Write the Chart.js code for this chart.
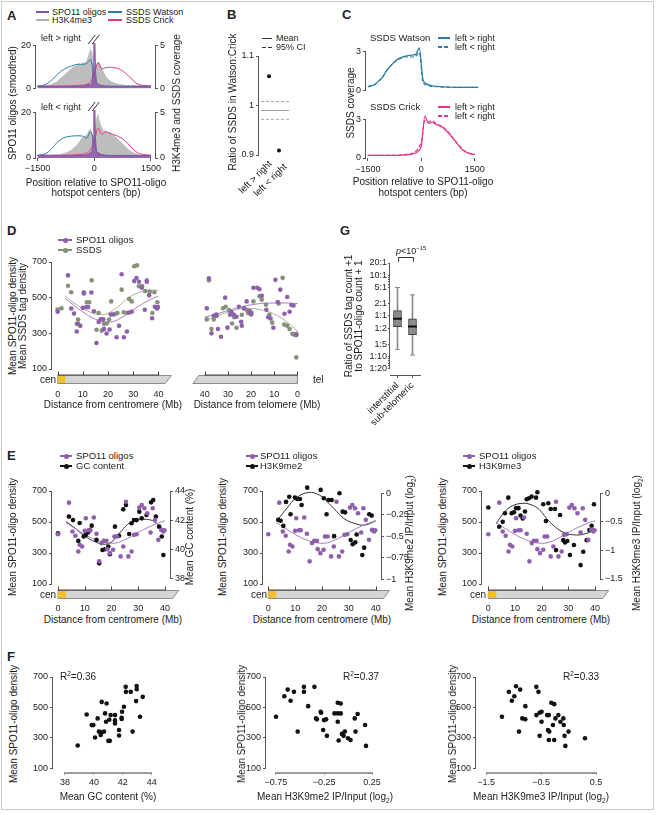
<!DOCTYPE html>
<html>
<head>
<meta charset="utf-8">
<script src="https://cdn.jsdelivr.net/npm/chart.js@4.4.1/dist/chart.umd.min.js"></script>
<style>
html, body { margin: 0; padding: 0; background: #fff; }
#fig { position: relative; width: 656px; height: 815px; overflow: hidden;
       font-family: 'Liberation Sans', Arial, Helvetica, sans-serif; color: #222; }
#fig canvas { position: absolute; }
.t { position: absolute; white-space: nowrap; line-height: 1; }
.t sup, .t sub { font-size: 65%; line-height: 0; }
.frame { position: absolute; left: 1px; top: 1px; width: 651px; height: 807px; border: 1px solid #cdcdcd; }
.ln { position: absolute; }
.dot { position: absolute; width: 5px; height: 5px; border-radius: 50%; }
</style>
</head>
<body>
<div id="fig"><div class="frame"></div></div>
<script>
// ---------- A / C : profiles around SPO11-oligo hotspot centres (bp) ----------
var pos100 = [-1500,-1400,-1300,-1200,-1100,-1000,-900,-800,-700,-600,-500,-400,-300,-200,-100,0,100,200,300,400,500,600,700,800,900,1000,1100,1200,1300,1400,1500];
var pos50 = [-1500,-1450,-1400,-1350,-1300,-1250,-1200,-1150,-1100,-1050,-1000,-950,-900,-850,-800,-750,-700,-650,-600,-550,-500,-450,-400,-350,-300,-250,-200,-150,-100,-50,0,50,100,150,200,250,300,350,400,450,500,550,600,650,700,750,800,850,900,950,1000,1050,1100,1150,1200,1250,1300,1350,1400,1450,1500];
var posSpo = [-1500,-1200,-900,-600,-400,-300,-200,-150,-100,-60,-30,-10,0,10,30,60,100,150,200,300,400,600,900,1200,1500];

// left > right
var aSpoLR = [1,1,1,1,1.1,1.2,1.5,2.2,1.6,2.5,9,40,40,40,9,2.5,2.2,1.6,1.3,1.1,1,1,1,1,1];
var aWatsonLR = [.3,.35,.45,.7,1.1,1.55,1.95,2.25,2.5,2.65,2.8,2.85,2.85,2.95,3.4,1.3,.5,.35,.3,.3,.28,.28,.28,.28,.28,.28,.28,.28,.28,.28,.28];
var aCrickLR = [.3,.3,.3,.3,.3,.3,.3,.3,.32,.33,.35,.38,.4,.5,.8,1.7,3.0,2.3,2.45,2.5,2.45,2.4,2.2,1.9,1.5,1.1,.65,.45,.37,.33,.3];
var aH3LR = [.35,.35,.35,.35,.37,.4,.45,.5,.6,.7,.8,1.0,1.2,1.4,1.6,1.8,2.0,2.2,2.4,2.6,2.7,2.8,3.0,2.8,3.1,3.0,3.3,4.0,4.7,4.2,2.4,2.8,3.2,3.0,2.4,2.0,1.5,1.2,1.0,.85,.75,.65,.6,.55,.5,.48,.45,.43,.42,.4,.4,.38,.38,.37,.37,.36,.36,.35,.35,.35,.35];
// left < right
var aSpoRL = [1,1,1,1,1.1,1.2,1.4,1.8,2.4,2.6,9,40,40,40,9,2.5,2.4,1.8,1.4,1.2,1,1,1,1,1];
var aWatsonRL = [.3,.35,.45,.72,1.15,1.64,2.0,2.25,2.35,2.42,2.45,2.45,2.4,2.2,2.9,1.6,.45,.33,.3,.3,.28,.28,.28,.28,.28,.28,.28,.28,.28,.28,.28];
var aCrickRL = [.3,.3,.3,.3,.3,.3,.3,.3,.32,.33,.35,.38,.42,.55,.9,1.8,3.3,2.6,2.9,2.75,2.6,2.45,2.25,1.95,1.55,1.1,.7,.48,.38,.33,.3];
var aH3RL = [.35,.35,.35,.35,.36,.36,.37,.37,.38,.38,.4,.42,.45,.5,.55,.6,.7,.8,.95,1.1,1.3,1.5,1.8,2.1,2.3,2.4,2.6,3.0,3.3,2.6,2.4,4.3,4.9,4.0,3.4,3.0,3.1,2.8,2.9,2.7,2.6,2.4,2.2,2.0,1.8,1.6,1.4,1.2,1.0,.8,.7,.6,.5,.45,.4,.37,.35,.35,.35,.35,.35];

// C
var cWatsonLR = [.3,.38,.5,.75,1.05,1.5,1.85,2.15,2.4,2.55,2.65,2.7,2.75,2.8,3.3,.85,.52,.4,.35,.32,.3,.28,.27,.26,.25,.25,.25,.25,.25,.25,.25];
var cWatsonRL = [.3,.38,.5,.75,1.05,1.5,1.85,2.15,2.35,2.5,2.6,2.6,2.6,2.65,2.95,.65,.42,.35,.32,.3,.28,.27,.26,.25,.25,.25,.25,.25,.25,.25,.25];
var cCrickLR = [.2,.2,.2,.2,.2,.2,.2,.2,.2,.22,.22,.25,.28,.35,.5,.95,3.3,2.75,2.8,2.65,2.55,2.4,2.15,1.85,1.5,1.15,.8,.55,.4,.32,.28];
var cCrickRL = [.2,.2,.2,.2,.2,.2,.2,.2,.2,.22,.24,.28,.33,.45,.7,1.3,2.95,2.85,2.95,2.75,2.6,2.45,2.2,1.9,1.55,1.2,.85,.58,.42,.33,.28];

// ---------- B ----------
var bCats = ['left > right', 'left < right'];
var bRatio = [1.059, 0.909];
var bMean = 0.99;
var bCiLow = 0.972;
var bCiHigh = 1.008;

// ---------- D / E : distance from centromere or telomere (Mb) ----------
var spoCenX = [0,4.1,5.4,6.5,7.6,8.1,9.0,10.0,10.4,11.4,12.1,13.4,14.4,15.4,16.3,17.1,18.1,18.4,19.4,20.6,21.1,22.1,23.4,24.4,25.4,26.3,27.5,28.4,29.4,30.4,31.3,32.3,33.4,34.6,35.4,36.3,37.5,38.6,39.4,39.8];
var spoCenY = [421,625,439,411,310,353,342,443,524,447,447,529,424,246,364,379,379,325,299,321,406,406,278,342,631,278,310,417,421,593,610,589,556,432,589,514,385,449,439,447];
var ssdsCenX = [0,1.5,4.1,5.4,7.6,8.1,10.4,11.6,12.5,13.5,15.4,16.25,17.5,18.4,19.5,20.4,21.25,23.0,23.75,25.4,26.25,27.5,28.4,29.4,30.4,31.5,32.25,33.5,34.8,35.4,36.6,37.6,38.4,39.6];
var ssdsCenY = [433,440,567,530,354,377,530,474,474,597,320,414,315,354,355,377,479,410,414,545,418,414,493,479,676,681,564,565,537,597,535,414,530,474];
var spoTelX = [38.2,39.1,36.1,37.1,35.0,34.3,33.0,31.2,30.2,29.1,28.5,27.5,26.3,25.3,24.3,24.0,23.1,21.9,20.6,20.0,19.0,17.3,16.4,15.4,13.4,12.6,11.6,10.4,9.5,8.5,7.4,5.6,4.4,3.4,2.6,1.7,0.5];
var spoTelY = [608,440,399,300,405,324,281,500,332,404,420,406,393,449,365,343,440,479,425,406,556,556,547,511,432,390,383,331,600,475,545,410,504,421,459,456,290];
var ssdsTelX = [38.2,39.1,37.1,36.1,34.9,32.1,31.0,29.5,28.2,27.3,26.3,24.0,23.0,21.9,21.3,19.8,19.0,16.4,15.4,13.6,12.1,10.9,8.1,6.4,5.7,4.4,3.4,2.2,1.3,0.5,0.5];
var ssdsTelY = [597,378,324,378,397,441,449,430,355,390,331,404,440,432,415,415,479,508,489,460,404,360,467,611,349,343,324,298,292,165,298];

var spoCenFitX = [3,6,10,14,18,22,26,30,34,38,40];
var spoCenFitY = [495,462,420,386,366,366,394,433,468,497,508];
var ssdsCenFitX = [3,6,10,14,17,20,24,28,32,36,40];
var ssdsCenFitY = [510,475,440,412,405,412,450,498,528,540,542];
var spoTelFitX = [40,35,30,25,20,15,10,5,0];
var spoTelFitY = [390,408,428,446,460,468,470,470,467];
var ssdsTelFitX = [40,35,30,25,20,15,10,5,0];
var ssdsTelFitY = [372,396,418,436,440,430,408,368,312];

var gcX = [0,4.1,5.6,7.6,8.1,9.6,10.4,11.3,11.9,12.6,14.4,15.4,16.6,17.6,18.8,19.4,21.3,22.8,24.4,25.4,26.6,27.5,28.4,29.4,30.4,31.3,33.1,34.8,35.6,36.6,37.8,38.8,39.4];
var gcY = [41.1,42.24,42.0,40.57,41.8,40.87,40.98,41.16,41.32,41.62,40.64,39.03,39.95,40.0,40.18,39.65,41.55,40.93,42.74,43.04,41.05,41.78,42.0,42.0,42.58,42.12,42.35,43.22,43.38,42.24,41.55,40.87,39.6];
var gcFitX = [3,6,10,14,17,20,23,26,29,33,36,40];
var gcFitY = [41.9,41.5,40.9,40.5,40.34,40.5,41.1,41.7,42.0,42.05,41.9,41.25];

var me2X = [3.7,4.6,5.6,6.6,7.8,8.3,9.9,10.8,11.8,12.4,14.5,15.5,16.5,17.4,18.6,19.5,20.7,21.7,22.4,23.6,24.5,26.5,27.7,28.6,30.7,31.4,32.4,32.9,35.0,35.7,37.6,38.5,39.8];
var me2Y = [-0.31,-0.32,-0.38,-0.10,-0.04,-0.245,-0.05,-0.066,-0.066,-0.136,0.066,0.18,0.175,0.167,0.078,0.04,-0.058,-0.245,-0.078,-0.078,-0.5,0.0,-0.214,-0.222,-0.545,-0.595,-0.572,-0.48,-0.72,-0.634,-0.245,-0.26,0.105];
var me2FitX = [3.7,7,10.5,15,19,22,24.5,28,32,36,40];
var me2FitY = [-0.30,-0.17,-0.05,0.01,-0.02,-0.1,-0.18,-0.29,-0.35,-0.37,-0.32];

var me3X = [0,4.1,5.4,6.25,7.5,8.75,9.6,10.4,11.3,12.1,12.9,13.75,14.4,15.25,16.25,17.9,18.4,19.4,20.6,21.6,22.5,23.4,25.0,25.4,26.9,28.1,28.75,29.6,30.6,32.1,34.6,35.6,36.9,37.9,38.75,39.6];
var me3Y = [-0.25,-0.585,-0.50,-0.35,-0.076,-0.35,-0.333,-0.26,-0.26,-0.39,-0.44,-0.32,-0.105,-0.088,-0.058,-0.076,0.018,0.32,-0.193,-0.485,-0.175,-0.275,-0.275,-0.994,-0.38,-0.82,-0.86,-0.836,-1.08,-0.906,-1.257,-1.023,-0.82,-0.643,-0.567,-0.193];
var me3FitX = [3,6,9,13,16,19,23,28,33,37,40];
var me3FitY = [-0.53,-0.33,-0.22,-0.175,-0.2,-0.28,-0.5,-0.68,-0.73,-0.7,-0.64];

// ---------- G ----------
var gCats = ['interstitial', 'sub-telomeric'];
var gLow = [0.15, 0.11];
var gQ1 = [0.55, 0.35];
var gMed = [0.85, 0.55];
var gQ3 = [1.35, 0.85];
var gHigh = [5, 3.3];
var gTicks = [0.05,0.06,0.07,0.08,0.09,0.1,0.2,0.5,1,2,5,6,7,8,9,10,20];
var gTickLabels = ['1:20','','','','','1:10','1:5','1:2','1:1','2:1','5:1','','','','','10:1','20:1'];

// ---------- F ----------
var fGcX = [38.88,39.5,39.85,39.96,40.08,40.26,40.35,40.47,40.54,40.54,40.7,40.77,40.84,40.88,41.0,41.1,41.07,41.16,41.46,41.46,41.46,41.74,41.74,41.92,41.92,41.95,42.08,42.2,42.22,42.55,42.68,42.96,42.96,42.92,43.19,43.38];
var fGcY = [248,453,383,383,301,427,340,318,336,536,340,460,405,525,279,279,418,449,449,414,394,351,314,431,423,471,504,635,602,602,340,641,619,541,438,569];
var fMe2X = [-0.75,-0.663,-0.628,-0.598,-0.563,-0.524,-0.459,-0.459,-0.415,-0.35,-0.333,-0.324,-0.285,-0.28,-0.259,-0.25,-0.228,-0.22,-0.141,-0.107,-0.107,-0.076,-0.107,-0.098,-0.076,-0.063,-0.046,-0.033,0.0,0.026,0.07,0.078,0.1,0.178,0.187];
var fMe2Y = [438,573,617,543,602,340,602,635,508,635,427,421,471,464,351,416,421,312,460,460,530,525,405,281,460,325,312,340,296,285,427,340,456,384,246];
var fMe3X = [-1.21,-1.085,-1.03,-0.985,-0.955,-0.88,-0.9,-0.84,-0.785,-0.785,-0.585,-0.585,-0.547,-0.525,-0.525,-0.49,-0.49,-0.389,-0.358,-0.374,-0.35,-0.358,-0.313,-0.283,-0.26,-0.26,-0.238,-0.185,-0.147,-0.094,-0.087,-0.072,-0.057,0.0,0.3];
var fMe3Y = [438,602,543,573,639,617,340,427,421,508,449,635,602,464,312,471,405,449,449,351,340,285,530,384,521,285,427,449,405,427,384,312,246,340,296];

// ---------- colours ----------
var PURPLE = '#8b52a8', PURPLE_DOT = '#8e5fab', PURPLE_FIT = '#a47cbf';
var OLIVE = '#86907a', OLIVE_FIT = '#aab09c';
var TEAL = '#2a7ea3', PINK = '#e0368b', GREY = '#bdbdbd';

Chart.defaults.font.family = "'Liberation Sans', Arial, Helvetica, sans-serif";
Chart.defaults.font.size = 9;
Chart.defaults.color = '#222';
Chart.defaults.plugins.legend.display = false;
Chart.defaults.plugins.tooltip.enabled = false;

// axis line only between first and last tick
var spanAxis = {
  id: 'spanAxis',
  afterDatasetsDraw: function (chart, args, o) {
    var ctx = chart.ctx;
    Object.keys(chart.scales).forEach(function (id) {
      var w = o[id];
      if (!w) return;
      var s = chart.scales[id];
      var a = s.getPixelForValue(s.ticks[0].value);
      var b = s.getPixelForValue(s.ticks[s.ticks.length - 1].value);
      ctx.save();
      ctx.strokeStyle = w > 1 ? '#9c9c9c' : '#555';
      ctx.lineWidth = w;
      ctx.beginPath();
      if (s.isHorizontal()) {
        var y = Math.round(s.top) + (w > 1 ? 1 : 0.5);
        ctx.moveTo(a, y); ctx.lineTo(b, y);
      } else {
        var x = s.position === 'left' ? Math.round(s.right) - 0.5 : Math.round(s.left) + 0.5;
        ctx.moveTo(x, a); ctx.lineTo(x, b);
      }
      ctx.stroke();
      ctx.restore();
    });
  }
};

// chromosome schematic under the distance axis
var chromBar = {
  id: 'chromBar',
  afterDraw: function (chart, args, o) {
    if (!o.kind) return;
    var ctx = chart.ctx, xs = chart.scales.x;
    var top = chart.chartArea.bottom + o.gap, h = 8;
    var p0 = xs.getPixelForValue(0), pe = xs.getPixelForValue(o.end);
    ctx.save();
    ctx.fillStyle = '#d5d5d5'; ctx.strokeStyle = '#8c8c8c'; ctx.lineWidth = 1;
    ctx.beginPath();
    if (o.kind === 'cen') {
      ctx.moveTo(p0, top); ctx.lineTo(pe + 3, top); ctx.lineTo(pe - 3, top + h); ctx.lineTo(p0, top + h);
    } else {
      ctx.moveTo(pe + 3, top); ctx.lineTo(p0, top); ctx.lineTo(p0, top + h); ctx.lineTo(pe - 3, top + h);
    }
    ctx.closePath(); ctx.fill(); ctx.stroke();
    if (o.kind === 'cen') {
      ctx.fillStyle = '#f4bf2a';
      var p3 = xs.getPixelForValue(3);
      ctx.fillRect(p0, top + 0.5, p3 - p0, h - 1);
    }
    ctx.strokeStyle = '#444';
    ctx.beginPath();
    var p40 = xs.getPixelForValue(40);
    ctx.moveTo(p0, top - 0.5); ctx.lineTo(p40, top - 0.5);
    [0, 10, 20, 30, 40].forEach(function (v) {
      var px = Math.round(xs.getPixelForValue(v)) + 0.5;
      ctx.moveTo(px, top - 4); ctx.lineTo(px, top);
    });
    ctx.stroke();
    ctx.restore();
  }
};

// "//" break mark on the clipped SPO11 spike
var breakMark = {
  id: 'breakMark',
  afterDraw: function (chart, args, o) {
    if (!o.on) return;
    var ctx = chart.ctx, cx = chart.scales.x.getPixelForValue(0), t = chart.chartArea.top;
    ctx.save();
    ctx.strokeStyle = '#333'; ctx.lineWidth = 1;
    ctx.beginPath();
    ctx.moveTo(cx - 6, t + 1); ctx.lineTo(cx + 1, t - 8);
    ctx.moveTo(cx - 2, t + 1); ctx.lineTo(cx + 5, t - 8);
    ctx.stroke();
    ctx.restore();
  }
};

// significance bracket in G
var bracket = {
  id: 'bracket',
  afterDraw: function (chart, args, o) {
    if (!o.on) return;
    var ctx = chart.ctx, xs = chart.scales.x;
    var p1 = Math.round(xs.getPixelForValue(0)) + 0.5, p2 = Math.round(xs.getPixelForValue(1)) + 0.5;
    var y = chart.chartArea.top - 5.5;
    ctx.save();
    ctx.strokeStyle = '#333'; ctx.lineWidth = 1;
    ctx.beginPath();
    ctx.moveTo(p1, y + 4); ctx.lineTo(p1, y); ctx.lineTo(p2, y); ctx.lineTo(p2, y + 4);
    ctx.stroke();
    ctx.restore();
  }
};

Chart.register(spanAxis, chromBar, breakMark, bracket);

var fig = document.getElementById('fig');

function fm(v) { return v < 0 ? '\u2212' + Math.abs(v) : String(v); }
function xy(xs, ys) { return xs.map(function (x, i) { return { x: x, y: ys[i] }; }); }

function yAxis(pos, min, max, ticks, w, cb) {
  return {
    type: 'linear', position: pos, min: min, max: max,
    afterBuildTicks: function (s) { s.ticks = ticks.map(function (v) { return { value: v }; }); },
    afterFit: function (s) { s.width = w; },
    grid: { display: true, drawOnChartArea: false, drawTicks: true, tickLength: 3, color: '#555' },
    border: { display: false },
    ticks: { padding: 2, autoSkip: false, callback: cb || fm }
  };
}

function xAxis(min, max, ticks, h, o) {
  o = o || {};
  return {
    type: 'linear', position: 'bottom', min: min, max: max, reverse: !!o.reverse,
    display: o.display !== false,
    afterBuildTicks: function (s) { s.ticks = ticks.map(function (v) { return { value: v }; }); },
    afterFit: function (s) { s.height = h; },
    grid: { display: !!o.marks, drawOnChartArea: false, drawTicks: !!o.marks, tickLength: 3, color: o.markColor || '#555' },
    border: { display: false },
    ticks: { padding: o.pad === undefined ? 3 : o.pad, maxRotation: 0, autoSkip: false, callback: fm }
  };
}

function pts(xs, ys, color, axis) {
  return { data: xy(xs, ys), backgroundColor: color, borderWidth: 0, pointRadius: 2.3,
           yAxisID: axis || 'y', clip: false, order: 0 };
}
function fit(xs, ys, color, axis) {
  return { data: xy(xs, ys), showLine: true, borderColor: color, borderWidth: 1, pointRadius: 0,
           tension: 0.4, yAxisID: axis || 'y', clip: false, order: 1 };
}

// area = [left, top, right, bottom] of the plotting area on the page
function mk(area, r, cfg) {
  var W = area[2] - area[0] + r.L + r.R, H = area[3] - area[1] + r.T + r.B;
  var cv = document.createElement('canvas');
  cv.width = W; cv.height = H;
  cv.style.left = (area[0] - r.L) + 'px'; cv.style.top = (area[1] - r.T) + 'px';
  cv.style.width = W + 'px'; cv.style.height = H + 'px';
  fig.appendChild(cv);
  var op = cfg.options;
  op.layout = { padding: { left: r.L - (r.yl || 0), right: r.R - (r.yr || 0), top: r.T, bottom: r.B - (r.xb || 0) } };
  op.responsive = false; op.animation = false; op.events = []; op.devicePixelRatio = 1;
  return new Chart(cv, cfg);
}

function T(x, y, html, o) {
  o = o || {};
  var d = document.createElement('div');
  d.className = 't';
  d.innerHTML = html;
  d.style.fontSize = (o.size || 10) + 'px';
  if (o.bold) d.style.fontWeight = 'bold';
  d.style.left = x + 'px'; d.style.top = y + 'px';
  if (o.rot) d.style.transform = 'translate(-50%,-50%) rotate(-90deg)';
  else if (o.diag) { d.style.transformOrigin = '0 0'; d.style.transform = 'rotate(-45deg) translate(-100%,-50%)'; }
  else d.style.transform = 'translate(' + (o.a === 'c' ? '-50%' : o.a === 'r' ? '-100%' : '0') + ',-50%)';
  fig.appendChild(d);
}
function LN(x1, x2, y, color, w, dash) {
  var d = document.createElement('div');
  d.className = 'ln';
  d.style.left = x1 + 'px'; d.style.width = (x2 - x1) + 'px';
  d.style.top = (y - w / 2) + 'px'; d.style.height = w + 'px';
  d.style.background = dash ? 'repeating-linear-gradient(90deg,' + color + ' 0 4px,transparent 4px 6px)' : color;
  fig.appendChild(d);
}
function DOT(x, y, color) {
  var d = document.createElement('div');
  d.className = 'dot';
  d.style.left = (x - 2.5) + 'px'; d.style.top = (y - 2.5) + 'px'; d.style.background = color;
  fig.appendChild(d);
}

// ================= A =================
function aChart(area, spo, wat, cri, h3, yMax, y2Max, showX) {
  return mk(area, { L: 30, R: 22, T: 12, B: showX ? 20 : 6, yl: 22, yr: 18, xb: showX ? 16 : 0 }, {
    type: 'line',
    data: { datasets: [
      { data: xy(posSpo, spo), yAxisID: 'y', borderColor: PURPLE, borderWidth: 1,
        backgroundColor: 'rgba(139,82,168,0.8)', fill: 'origin', pointRadius: 0, tension: 0, order: 0 },
      { data: xy(pos100, wat), yAxisID: 'y2', borderColor: TEAL, borderWidth: 1, pointRadius: 0,
        cubicInterpolationMode: 'monotone', fill: false, order: 1 },
      { data: xy(pos100, cri), yAxisID: 'y2', borderColor: PINK, borderWidth: 1, pointRadius: 0,
        cubicInterpolationMode: 'monotone', fill: false, order: 1 },
      { data: xy(pos50, h3), yAxisID: 'y2', borderWidth: 0, backgroundColor: GREY, fill: 'origin',
        pointRadius: 0, tension: 0, order: 3 }
    ] },
    options: {
      scales: {
        x: xAxis(-1540, 1606, [-1500, 0, 1500], showX ? 16 : 0, { display: showX, marks: true, pad: 2 }),
        y: yAxis('left', 0, yMax, [0, 20], 22),
        y2: yAxis('right', 0, y2Max, [0, 5], 18)
      },
      plugins: { spanAxis: { y: 1, y2: 1 }, breakMark: { on: true } }
    }
  });
}
aChart([36, 43, 155, 90], aSpoLR, aWatsonLR, aCrickLR, aH3LR, 21.36, 5.34, false);
aChart([36, 110, 155, 158], aSpoRL, aWatsonRL, aCrickRL, aH3RL, 21.2, 5.3, true);

// ================= B =================
mk([259, 56, 289, 155], { L: 30, R: 6, T: 8, B: 55, yl: 24, xb: 50 }, {
  type: 'scatter',
  data: { datasets: [
    { data: bCats.map(function (c, i) { return { x: i, y: bRatio[i] }; }), backgroundColor: '#111', pointRadius: 2, borderWidth: 0 },
    { data: [{ x: -0.8, y: bMean }, { x: 2, y: bMean }], showLine: true, borderColor: '#9a9a9a', borderWidth: 1, pointRadius: 0 },
    { data: [{ x: -0.8, y: bCiLow }, { x: 2, y: bCiLow }], showLine: true, borderColor: '#a8a8a8', borderWidth: 1, borderDash: [3, 2], pointRadius: 0 },
    { data: [{ x: -0.8, y: bCiHigh }, { x: 2, y: bCiHigh }], showLine: true, borderColor: '#a8a8a8', borderWidth: 1, borderDash: [3, 2], pointRadius: 0 }
  ] },
  options: {
    scales: {
      x: { type: 'linear', min: -1, max: 2,
           afterFit: function (s) { s.height = 50; },
           grid: { display: false, drawTicks: false }, border: { display: false },
           ticks: { display: false } },
      y: yAxis('left', 0.9, 1.1, [0.9, 1, 1.1], 24, function (v) { return String(v); })
    },
    plugins: { spanAxis: { y: 1 } }
  }
});

// ================= C =================
function cChart(area, solid, dashed, color, yMax, showX) {
  return mk(area, { L: 20, R: 8, T: 8, B: showX ? 20 : 6, yl: 14, xb: showX ? 16 : 0 }, {
    type: 'line',
    data: { datasets: [
      { data: xy(pos100, dashed), borderColor: color, borderWidth: 1.2, borderDash: [4, 2], pointRadius: 0, cubicInterpolationMode: 'monotone' },
      { data: xy(pos100, solid), borderColor: color, borderWidth: 1.2, pointRadius: 0, cubicInterpolationMode: 'monotone' }
    ] },
    options: {
      scales: {
        x: xAxis(-1550, 1550, [-1500, 0, 1500], showX ? 16 : 0, { display: showX, marks: true, pad: 3 }),
        y: yAxis('left', 0, yMax, [0, 3], 14)
      },
      plugins: { spanAxis: { y: 1 } }
    }
  });
}
cChart([366, 46, 480, 92], cWatsonLR, cWatsonRL, TEAL, 3.45, false);
cChart([366, 114, 480, 158], cCrickLR, cCrickRL, PINK, 3.47, true);

// ================= D =================
mk([52, 262, 170, 369], { L: 28, R: 14, T: 8, B: 34, yl: 24, xb: 30 }, {
  type: 'scatter',
  data: { datasets: [
    pts(spoCenX, spoCenY, PURPLE_DOT), pts(ssdsCenX, ssdsCenY, OLIVE),
    fit(spoCenFitX, spoCenFitY, PURPLE_FIT), fit(ssdsCenFitX, ssdsCenFitY, OLIVE_FIT)
  ] },
  options: {
    scales: { x: xAxis(-2.24, 41.87, [0, 10, 20, 30, 40], 30, { pad: 20 }),
              y: yAxis('left', 100, 700, [100, 300, 500, 700], 24) },
    plugins: { spanAxis: { y: 1 }, chromBar: { kind: 'cen', end: 43.9, gap: 6.5 } }
  }
});
mk([190, 262, 312, 369], { L: 10, R: 8, T: 8, B: 34, xb: 30 }, {
  type: 'scatter',
  data: { datasets: [
    pts(spoTelX, spoTelY, PURPLE_DOT), pts(ssdsTelX, ssdsTelY, OLIVE),
    fit(spoTelFitX, spoTelFitY, PURPLE_FIT), fit(ssdsTelFitX, ssdsTelFitY, OLIVE_FIT)
  ] },
  options: {
    scales: { x: xAxis(-0.73, 44.04, [40, 30, 20, 10, 0], 30, { pad: 20, reverse: true }),
              y: { type: 'linear', display: false, min: 100, max: 700 } },
    plugins: { chromBar: { kind: 'tel', end: 43.85, gap: 6.5 } }
  }
});

// ================= G =================
mk([390, 263, 420, 375], { L: 60, R: 8, T: 10, B: 55, yl: 34, xb: 50 }, {
  type: 'bar',
  data: { labels: gCats, datasets: [
    { data: gCats.map(function (c, i) { return [gLow[i], gHigh[i]]; }), backgroundColor: '#8a8a8a', barThickness: 1, grouped: false, order: 3 },
    { data: gCats.map(function (c, i) { return [gQ1[i], gQ3[i]]; }), backgroundColor: '#8c8c8c', borderColor: '#3c3c3c',
      borderWidth: 1, borderSkipped: false, barThickness: 8, grouped: false, order: 2 },
    { type: 'line', data: gHigh, showLine: false, pointStyle: 'line', pointRadius: 2.5, pointBorderColor: '#8a8a8a', pointBorderWidth: 1, order: 1 },
    { type: 'line', data: gLow, showLine: false, pointStyle: 'line', pointRadius: 2.5, pointBorderColor: '#8a8a8a', pointBorderWidth: 1, order: 1 },
    { type: 'line', data: gMed, showLine: false, pointStyle: 'line', pointRadius: 4.5, pointBorderColor: '#111', pointBorderWidth: 2, order: 0 }
  ] },
  options: {
    scales: {
      x: { type: 'category', offset: true,
           afterFit: function (s) { s.height = 50; },
           grid: { display: true, offset: false, drawOnChartArea: false, drawTicks: true, tickLength: 3, color: '#555' },
           border: { display: true, color: '#555' },
           ticks: { minRotation: 45, maxRotation: 45, autoSkip: false, padding: 2, font: { size: 9.5 } } },
      y: { type: 'logarithmic', min: 0.0356, max: 20,
           afterBuildTicks: function (s) { s.ticks = gTicks.map(function (v) { return { value: v }; }); },
           afterFit: function (s) { s.width = 34; },
           grid: { display: true, drawOnChartArea: false, drawTicks: true, tickLength: 2, color: '#555' },
           border: { display: false },
           ticks: { padding: 1, autoSkip: false, callback: function (v) { return gTickLabels[gTicks.indexOf(v)]; } } }
    },
    plugins: { spanAxis: { y: 1 }, bracket: { on: true } }
  }
});

// ================= E =================
function eChart(area, xMin, xMax, bx, by, fx, fy, y2Min, y2Max, y2Ticks, yr) {
  return mk(area, { L: 28, R: yr + 8, T: 24, B: 30, yl: 24, yr: yr, xb: 28 }, {
    type: 'scatter',
    data: { datasets: [
      pts(spoCenX, spoCenY, PURPLE_DOT), pts(bx, by, '#111', 'y2'),
      fit(spoCenFitX, spoCenFitY, PURPLE_FIT), fit(fx, fy, '#333', 'y2')
    ] },
    options: {
      scales: {
        x: xAxis(xMin, xMax, [0, 10, 20, 30, 40], 28, { pad: 19 }),
        y: yAxis('left', 100, 700, [100, 300, 500, 700], 24),
        y2: yAxis('right', y2Min, y2Max, y2Ticks, yr)
      },
      plugins: { spanAxis: { y: 1, y2: 1 }, chromBar: { kind: 'cen', end: 44, gap: 6.5 } }
    }
  });
}
eChart([52, 491, 170, 584], -2.24, 41.87, gcX, gcY, gcFitX, gcFitY, 37.61, 44, [38, 40, 42, 44], 22);
eChart([263, 491, 381, 584], -1.97, 41.97, me2X, me2Y, me2FitX, me2FitY, -1.058, 0.027, [-1, -0.75, -0.5, -0.25, 0], 30);
eChart([482, 491, 600, 584], -2.36, 41.87, me3X, me3Y, me3FitX, me3FitY, -1.5875, 0.04, [-1.5, -1, -0.5, 0], 30);

// ================= F =================
function fChart(area, xs, ys, xMin, xMax, xTicks) {
  return mk(area, { L: 28, R: 12, T: 8, B: 30, yl: 25, xb: 26 }, {
    type: 'scatter',
    data: { datasets: [pts(xs, ys, '#111')] },
    options: {
      scales: {
        x: xAxis(xMin, xMax, xTicks, 26, { marks: true, pad: 2, markColor: '#999' }),
        y: yAxis('left', 73.8, 700, [100, 300, 500, 700], 25)
      },
      plugins: { spanAxis: { y: 1, x: 2 } }
    }
  });
}
fChart([53, 677, 152, 772], fGcX, fGcY, 37.17, 44.02, [38, 40, 42, 44]);
fChart([266, 677, 373, 772], fMe2X, fMe2Y, -0.854, 0.26, [-0.75, -0.25, 0.25]);
fChart([476, 677, 597, 772], fMe3X, fMe3Y, -1.682, 0.518, [-1.5, -0.5, 0.5]);

// ================= text =================
var B13 = { size: 13, bold: true };
T(7, 15, 'A', B13); T(227, 14, 'B', B13); T(342, 14, 'C', B13);
T(7, 230, 'D', B13); T(340, 230, 'G', B13); T(7, 455, 'E', B13); T(7, 656, 'F', B13);

// A
LN(36, 49, 12, PURPLE, 2.5); T(52, 12, 'SPO11 oligos', { size: 9 });
LN(108, 122, 12, TEAL, 2.5); T(126, 12, 'SSDS Watson', { size: 9 });
LN(36, 49, 20, '#b0b0b0', 2.5); T(52, 20, 'H3K4me3', { size: 9 });
LN(108, 122, 20, PINK, 2.5); T(126, 20, 'SSDS Crick', { size: 9 });
T(41, 38, 'left &gt; right', { size: 9 }); T(41, 107, 'left &lt; right', { size: 9 });
T(13, 103, 'SPO11 oligos (smoothed)', { rot: true });
T(177, 103, 'H3K4me3 and SSDS coverage', { rot: true });
T(96, 183, 'Position relative to SPO11-oligo', { a: 'c' });
T(96, 193, 'hotspot centers (bp)', { a: 'c' });

// B
LN(262, 272, 38, '#333', 1); T(276, 38, 'Mean', { size: 9 });
LN(262, 272, 47, '#333', 1, true); T(276, 47, '95% CI', { size: 9 });
T(233, 102, 'Ratio of SSDS in Watson:Crick', { rot: true });
T(270, 162, bCats[0].replace('>', '&gt;'), { size: 9.5, diag: true });
T(285, 165, bCats[1].replace('<', '&lt;'), { size: 9.5, diag: true });

// C
T(370, 38, 'SSDS Watson', { size: 9.5 });
LN(438, 450, 38, TEAL, 2); T(455, 38, 'left &gt; right', { size: 9 });
LN(438, 450, 47, TEAL, 2, true); T(455, 47, 'left &lt; right', { size: 9 });
T(370, 107, 'SSDS Crick', { size: 9.5 });
LN(438, 450, 107, PINK, 2); T(455, 107, 'left &gt; right', { size: 9 });
LN(438, 450, 116, PINK, 2, true); T(455, 116, 'left &lt; right', { size: 9 });
T(351, 103, 'SSDS coverage', { rot: true });
T(423, 182, 'Position relative to SPO11-oligo', { a: 'c' });
T(423, 193, 'hotspot centers (bp)', { a: 'c' });

// D
LN(58, 72, 240, PURPLE_DOT, 1.5); DOT(65, 240, PURPLE_DOT); T(76, 240, 'SPO11 oligos', { size: 9.5 });
LN(58, 72, 250, OLIVE, 1.5); DOT(65, 250, OLIVE); T(76, 250, 'SSDS', { size: 9.5 });
T(13, 316, 'Mean SPO11-oligo density', { rot: true });
T(23, 316, 'Mean SSDS tag density', { rot: true });
T(56, 380, 'cen', { a: 'r' }); T(313, 380, 'tel');
T(113, 405, 'Distance from centromere (Mb)', { a: 'c' });
T(257, 405, 'Distance from telomere (Mb)', { a: 'c' });

// G
T(396, 251, '<i>p</i>&lt;10<sup>\u221215</sup>', { size: 9 });
T(349, 316, 'Ratio of SSDS tag count +1', { rot: true });
T(359, 316, 'to SPO11-oligo count + 1', { rot: true });

// E
[[60, 76, 'GC content'], [246, 260, 'H3K9me2'], [463, 479, 'H3K9me3']].forEach(function (l) {
  LN(l[0], l[0] + 12, 456, PURPLE_DOT, 1.5); DOT(l[0] + 6, 456, PURPLE_DOT); T(l[1], 456, 'SPO11 oligos', { size: 9.5 });
  LN(l[0], l[0] + 12, 466, '#111', 1.5); DOT(l[0] + 6, 466, '#111'); T(l[1], 466, l[2], { size: 9.5 });
});
T(13, 537, 'Mean SPO11-oligo density', { rot: true });
T(223, 537, 'Mean SPO11-oligo density', { rot: true });
T(443, 537, 'Mean SPO11-oligo density', { rot: true });
T(190, 537, 'Mean GC content (%)', { rot: true });
T(410, 543, 'Mean H3K9me2 IP/Input (log<sub>2</sub>)', { rot: true });
T(637, 543, 'Mean H3K9me3 IP/Input (log<sub>2</sub>)', { rot: true });
T(56, 595, 'cen', { a: 'r' }); T(267, 595, 'cen', { a: 'r' }); T(486, 595, 'cen', { a: 'r' });
T(113, 620, 'Distance from centromere (Mb)', { a: 'c' });
T(322, 620, 'Distance from centromere (Mb)', { a: 'c' });
T(541, 620, 'Distance from centromere (Mb)', { a: 'c' });

// F
T(60, 677, 'R<sup>2</sup>=0.36'); T(343, 677, 'R<sup>2</sup>=0.37'); T(563, 677, 'R<sup>2</sup>=0.33');
T(14, 724, 'Mean SPO11-oligo density', { rot: true });
T(242, 724, 'Mean SPO11-oligo density', { rot: true });
T(453, 724, 'Mean SPO11-oligo density', { rot: true });
T(108, 797, 'Mean GC content (%)', { a: 'c' });
T(325, 797, 'Mean H3K9me2 IP/Input (log<sub>2</sub>)', { a: 'c' });
T(541, 797, 'Mean H3K9me3 IP/Input (log<sub>2</sub>)', { a: 'c' });
</script>
</body>
</html>
